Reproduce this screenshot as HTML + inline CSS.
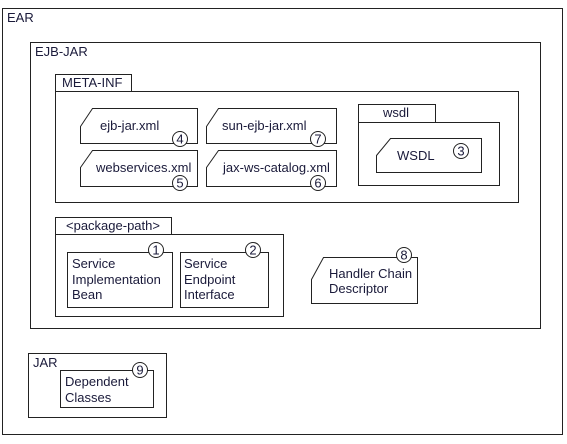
<!DOCTYPE html>
<html><head><style>
body{margin:0;background:#fff}
svg text{font-family:"Liberation Sans",sans-serif;font-size:13px;fill:#1a1a3a}
</style></head><body>
<svg width="567" height="439" viewBox="0 0 567 439" xmlns="http://www.w3.org/2000/svg" fill="none" stroke="#222" stroke-width="1">
<rect x="2.5" y="8.5" width="560" height="426" fill="#fff"/>
<text x="7" y="22" stroke="none">EAR</text>
<rect x="30.5" y="42.5" width="510" height="286"/>
<text x="35" y="56" stroke="none">EJB-JAR</text>
<rect x="55.5" y="74.5" width="76" height="17"/>
<text x="62" y="87" stroke="none">META-INF</text>
<rect x="55.5" y="91.5" width="463" height="111"/>
<path d="M80.5,126.5 L92.5,108.5 L197.5,108.5 L197.5,143.5 L80.5,143.5 Z"/>
<text x="100" y="130" stroke="none">ejb-jar.xml</text>
<path d="M80.5,167.5 L92.5,150.5 L197.5,150.5 L197.5,186.5 L80.5,186.5 Z"/>
<text x="96" y="172" stroke="none">webservices.xml</text>
<path d="M206.5,126.5 L218.5,108.5 L336.5,108.5 L336.5,143.5 L206.5,143.5 Z"/>
<text x="222" y="130" stroke="none">sun-ejb-jar.xml</text>
<path d="M206.5,167.5 L218.5,150.5 L336.5,150.5 L336.5,186.5 L206.5,186.5 Z"/>
<text x="223" y="172" stroke="none">jax-ws-catalog.xml</text>
<g fill="#fff">
<circle cx="180" cy="139" r="7.5"/><circle cx="318" cy="139" r="7.5"/>
<circle cx="180" cy="183" r="7.5"/><circle cx="318" cy="183" r="7.5"/>
</g>
<g stroke="none" text-anchor="middle">
<text x="180" y="143.5">4</text><text x="318" y="143.5">7</text>
<text x="180" y="187.5">5</text><text x="318" y="187.5">6</text>
</g>
<rect x="358.5" y="104.5" width="77" height="18"/>
<text x="383" y="117" stroke="none">wsdl</text>
<rect x="358.5" y="122.5" width="141" height="63"/>
<path d="M376.5,155.5 L390.5,138.5 L481.5,138.5 L481.5,172.5 L376.5,172.5 Z"/>
<text x="397" y="160" stroke="none">WSDL</text>
<circle cx="461" cy="151" r="7.5"/>
<text x="461" y="155.5" stroke="none" text-anchor="middle">3</text>
<rect x="55.5" y="217.5" width="116" height="17"/>
<text x="66" y="230" stroke="none">&lt;package-path&gt;</text>
<rect x="55.5" y="234.5" width="228" height="82"/>
<rect x="67.5" y="252.5" width="105" height="55"/>
<text x="72" y="268" stroke="none">Service</text>
<text x="72" y="284" stroke="none">Implementation</text>
<text x="72" y="299" stroke="none">Bean</text>
<rect x="180.5" y="252.5" width="88" height="55"/>
<text x="184" y="268" stroke="none">Service</text>
<text x="184" y="284" stroke="none">Endpoint</text>
<text x="184" y="299" stroke="none">Interface</text>
<circle cx="156" cy="250" r="7.5" fill="#fff"/>
<text x="156" y="254.5" stroke="none" text-anchor="middle">1</text>
<circle cx="253" cy="250" r="7.5" fill="#fff"/>
<text x="253" y="254.5" stroke="none" text-anchor="middle">2</text>
<path d="M311.5,279.5 L323.5,257.5 L417.5,257.5 L417.5,303.5 L311.5,303.5 Z"/>
<text x="329" y="278" stroke="none">Handler Chain</text>
<text x="329" y="293" stroke="none">Descriptor</text>
<circle cx="404" cy="255" r="7.5" fill="#fff"/>
<text x="404" y="259.5" stroke="none" text-anchor="middle">8</text>
<rect x="28.5" y="353.5" width="138" height="64"/>
<text x="33" y="367" stroke="none">JAR</text>
<rect x="60.5" y="370.5" width="93" height="37"/>
<text x="65" y="386" stroke="none">Dependent</text>
<text x="65" y="402" stroke="none">Classes</text>
<circle cx="140" cy="370" r="7.5" fill="#fff"/>
<text x="140" y="374.5" stroke="none" text-anchor="middle">9</text>
</svg>
</body></html>
